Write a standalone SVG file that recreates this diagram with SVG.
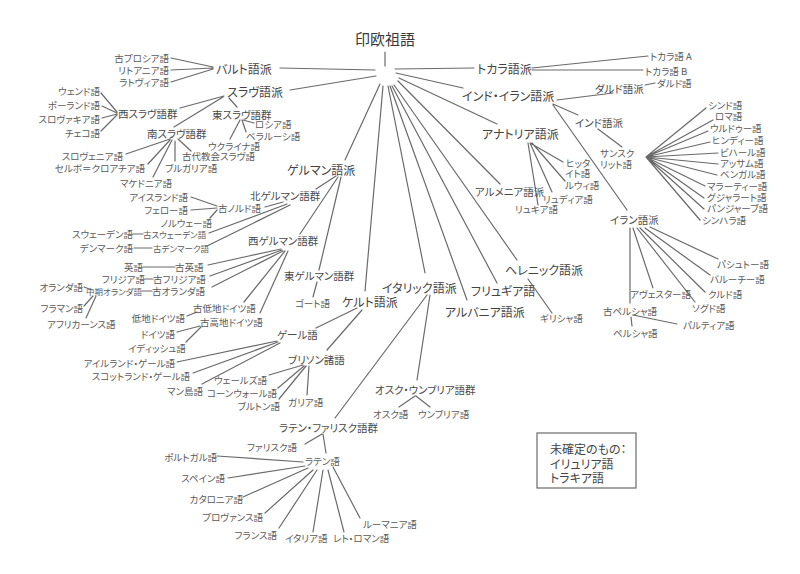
<svg xmlns="http://www.w3.org/2000/svg" width="800" height="574" viewBox="0 0 800 574">
<style>
text{font-family:"Noto Sans CJK JP","Noto Sans",sans-serif;dominant-baseline:central;font-feature-settings:"palt";}
.r{font-size:15px;fill:#3a3a3a;text-anchor:middle;}
.g{font-size:12px;fill:#444;}
.s{font-size:10.5px;fill:#4a4a4a;}
.l{font-size:9.5px;fill:#5a5a5a;}
.t{font-size:8.5px;fill:#5a5a5a;}
.e{text-anchor:end;}
.c{fill:none;stroke:#6a6a6a;stroke-width:1.2;stroke-linecap:round;}
</style>
<rect width="800" height="574" fill="#fff"/>
<g id="connectors" class="c">
<path d="M385 52L385 66M375 70L280 68M376 76L290 90M380 84L345 160M383 86L365 291M388 86L425 273M390 86L467 300M392 86L497 283M394 85L517 260M398 81L500 184M399 78L497 124M396 73L463 88M395 69L474 68"/>
<path d="M213 67L171 58M213 68L171 70M213 69L171 82"/>
<path d="M224 96L180 108M223 97L174 127M229 98L237 107M117 112L101 93M117 113L102 106M117 114L102 118M117 115L101 131M243 120L254 123M242 120L246 132M240 120L230 139M170 139L126 154M170 140L148 164M172 140L153 177M175 141L175 161M178 139L191 151"/>
<path d="M336 176L316 189M338 177L300 234M341 177L319 270M317 282L313 297M283 202L265 207M287 204L209 233M290 205L207 246M217 206L191 197M217 208L191 210M217 210L210 218M133 234L143 234M134 248L152 248M281 249L208 265M282 250L210 276M283 251L212 287M285 251L244 302M288 251L260 313M143 267L175 267M145 279L153 279M142 291L152 291M84 287L92 290M84 306L93 296M86 318L96 296M187 316L197 312M177 332L200 326M186 342L201 327"/>
<path d="M357 308L316 328M362 310L327 350M277 341L177 362M278 342L193 373M280 343L202 384M303 365L269 375M304 366L278 388M306 366L279 399M309 366L307 395"/>
<path d="M427 295L335 418M430 295L417 380M415 396L399 407M416 396L430 407M305 444L322 434M323 434L326 453M303 462L217 456M305 466L228 478M308 468L243 497M313 470L265 513M317 470L279 528M323 470L313 532M328 470L344 532M333 467L360 518"/>
<path d="M530 143L563 162M532 143L565 181M530 143L552 192M528 143L538 205M528 279L552 313"/>
<path d="M532 68L648 56M532 70L643 70M557 100L613 93M645 85L655 83M553 104L578 115M553 105L627 210M598 129L622 147"/>
<path d="M646 157L706 108M646 157L713 120M646 157L708 131M646 157L710 142M646 157L718 153M646 157L718 164M646 157L717 175M646 157L705 186M646 157L704 198M646 157L704 209M646 157L700 220"/>
<path d="M650 227L718 259M645 228L710 275M640 228L705 292M637 228L695 302M633 228L653 288M630 228L630 303M633 315L677 324M631 317L632 326"/>
</g>
<g id="n-root"><text class="r" x="385" y="38">印欧祖語</text></g>
<g id="n-baltic"><text class="g" x="216" y="68">バルト語派</text></g>
<g id="n-oldprussian"><text class="l e" x="169" y="58">古プロシア語</text></g>
<g id="n-lithuanian"><text class="l e" x="169" y="70">リトアニア語</text></g>
<g id="n-latvian"><text class="l e" x="169" y="82">ラトヴィア語</text></g>
<g id="n-slavic"><text class="g" x="227" y="91">スラヴ語派</text></g>
<g id="n-westslavic"><text class="s" x="118" y="113">西スラヴ語群</text></g>
<g id="n-wend"><text class="l e" x="100" y="91">ウェンド語</text></g>
<g id="n-polish"><text class="l e" x="100" y="105">ポーランド語</text></g>
<g id="n-slovak"><text class="l e" x="100" y="119">スロヴァキア語</text></g>
<g id="n-czech"><text class="l e" x="100" y="133">チェコ語</text></g>
<g id="n-eastslavic"><text class="s" x="212" y="114">東スラヴ語群</text></g>
<g id="n-russian"><text class="l" x="255" y="124">ロシア語</text></g>
<g id="n-belarusian"><text class="l" x="246" y="136">ベラルーシ語</text></g>
<g id="n-ukrainian"><text class="l" x="208" y="146">ウクライナ語</text></g>
<g id="n-southslavic"><text class="s" x="147" y="133">南スラヴ語群</text></g>
<g id="n-slovene"><text class="l e" x="123" y="156">スロヴェニア語</text></g>
<g id="n-serbocroatian"><text class="l e" x="145" y="168">セルボ＝クロアチア語</text></g>
<g id="n-macedonian"><text class="l" x="120" y="183">マケドニア語</text></g>
<g id="n-bulgarian"><text class="l" x="165" y="168">ブルガリア語</text></g>
<g id="n-churchslavonic"><text class="l" x="182" y="156">古代教会スラヴ語</text></g>
<g id="n-germanic"><text class="g" x="287" y="169">ゲルマン語派</text></g>
<g id="n-northgermanic"><text class="s" x="250" y="195">北ゲルマン語群</text></g>
<g id="n-oldnorse"><text class="l" x="218" y="208">古ノルド語</text></g>
<g id="n-icelandic"><text class="l e" x="188" y="197">アイスランド語</text></g>
<g id="n-faroese"><text class="l e" x="188" y="210">フェロー語</text></g>
<g id="n-norwegian"><text class="l e" x="212" y="223">ノルウェー語</text></g>
<g id="n-swedish"><text class="l e" x="133" y="234">スウェーデン語</text></g>
<g id="n-oldswedish"><text class="t" x="143" y="234">古スウェーデン語</text></g>
<g id="n-danish"><text class="l e" x="133" y="248">デンマーク語</text></g>
<g id="n-olddanish"><text class="t" x="153" y="248">古デンマーク語</text></g>
<g id="n-westgermanic"><text class="s" x="248" y="240">西ゲルマン語群</text></g>
<g id="n-english"><text class="l e" x="143" y="267">英語</text></g>
<g id="n-oldenglish"><text class="l" x="175" y="267">古英語</text></g>
<g id="n-frisian"><text class="l e" x="145" y="279">フリジア語</text></g>
<g id="n-oldfrisian"><text class="l" x="153" y="279">古フリジア語</text></g>
<g id="n-middledutch"><text class="t e" x="142" y="291">中期オランダ語</text></g>
<g id="n-olddutch"><text class="l" x="152" y="291">古オランダ語</text></g>
<g id="n-dutch"><text class="l e" x="83" y="287">オランダ語</text></g>
<g id="n-flemish"><text class="l e" x="83" y="308">フラマン語</text></g>
<g id="n-afrikaans"><text class="l" x="47" y="324">アフリカーンス語</text></g>
<g id="n-oldlowgerman"><text class="l" x="193" y="308">古低地ドイツ語</text></g>
<g id="n-oldhighgerman"><text class="l" x="200" y="322">古高地ドイツ語</text></g>
<g id="n-lowgerman"><text class="l e" x="185" y="318">低地ドイツ語</text></g>
<g id="n-german"><text class="l e" x="175" y="334">ドイツ語</text></g>
<g id="n-yiddish"><text class="l" x="128" y="348">イディッシュ語</text></g>
<g id="n-eastgermanic"><text class="s" x="284" y="275">東ゲルマン語群</text></g>
<g id="n-gothic"><text class="l" x="295" y="303">ゴート語</text></g>
<g id="n-celtic"><text class="g" x="342" y="301">ケルト語派</text></g>
<g id="n-gaelic"><text class="s" x="277" y="334">ゲール語</text></g>
<g id="n-irish"><text class="l e" x="175" y="363">アイルランド・ゲール語</text></g>
<g id="n-scottish"><text class="l e" x="190" y="376">スコットランド・ゲール語</text></g>
<g id="n-manx"><text class="l" x="167" y="391">マン島語</text></g>
<g id="n-brittonic"><text class="s" x="288" y="359">ブリソン諸語</text></g>
<g id="n-welsh"><text class="l e" x="267" y="380">ウェールズ語</text></g>
<g id="n-cornish"><text class="l e" x="277" y="393">コーンウォール語</text></g>
<g id="n-breton"><text class="l e" x="280" y="406">ブルトン語</text></g>
<g id="n-gaulish"><text class="l" x="288" y="402">ガリア語</text></g>
<g id="n-italic"><text class="g" x="382" y="287">イタリック語派</text></g>
<g id="n-oscoumbrian"><text class="s" x="375" y="389">オスク・ウンブリア語群</text></g>
<g id="n-oscan"><text class="l" x="373" y="414">オスク語</text></g>
<g id="n-umbrian"><text class="l" x="418" y="414">ウンブリア語</text></g>
<g id="n-latinofaliscan"><text class="s" x="279" y="427">ラテン・ファリスク語群</text></g>
<g id="n-faliscan"><text class="l" x="247" y="447">ファリスク語</text></g>
<g id="n-latin"><text class="l" x="305" y="461">ラテン語</text></g>
<g id="n-portuguese"><text class="l e" x="217" y="457">ポルトガル語</text></g>
<g id="n-spanish"><text class="l e" x="225" y="478">スペイン語</text></g>
<g id="n-catalan"><text class="l e" x="243" y="499">カタロニア語</text></g>
<g id="n-provencal"><text class="l e" x="263" y="517">プロヴァンス語</text></g>
<g id="n-french"><text class="l e" x="277" y="535">フランス語</text></g>
<g id="n-italian"><text class="l" x="285" y="538">イタリア語</text></g>
<g id="n-romansh"><text class="l" x="333" y="538">レト・ロマン語</text></g>
<g id="n-romanian"><text class="l" x="363" y="524">ルーマニア語</text></g>
<g id="n-albanian"><text class="g" x="445" y="311">アルバニア語派</text></g>
<g id="n-phrygian"><text class="g" x="471" y="290">フリュギア語</text></g>
<g id="n-hellenic"><text class="g" x="505" y="269">ヘレニック語派</text></g>
<g id="n-greek"><text class="l" x="540" y="318">ギリシャ語</text></g>
<g id="n-armenian"><text class="s" x="475" y="191">アルメニア語派</text></g>
<g id="n-anatolian"><text class="g" x="482" y="133">アナトリア語派</text></g>
<g id="n-hittite"><text class="l" x="566" y="163">ヒッタ</text><text class="l" x="565" y="173">イト語</text></g>
<g id="n-luwian"><text class="l" x="565" y="185">ルウィ語</text></g>
<g id="n-lydian"><text class="l" x="543" y="199">リュディア語</text></g>
<g id="n-lycian"><text class="l" x="515" y="209">リュキア語</text></g>
<g id="n-tocharian"><text class="g" x="477" y="68">トカラ語派</text></g>
<g id="n-tocharianA"><text class="l" x="650" y="56">トカラ語 A</text></g>
<g id="n-tocharianB"><text class="l" x="645" y="71">トカラ語 B</text></g>
<g id="n-indoiranian"><text class="g" x="462" y="95">インド・イラン語派</text></g>
<g id="n-dardic"><text class="s" x="595" y="88">ダルド語派</text></g>
<g id="n-dard"><text class="l" x="657" y="83">ダルド語</text></g>
<g id="n-indic"><text class="s" x="575" y="122">インド語派</text></g>
<g id="n-sanskrit"><text class="l" x="600" y="153">サンスク</text><text class="l" x="600" y="164">リット語</text></g>
<g id="n-sindhi"><text class="l" x="708" y="105">シンド語</text></g>
<g id="n-romani"><text class="l" x="715" y="116">ロマ語</text></g>
<g id="n-urdu"><text class="l" x="710" y="128">ウルドゥー語</text></g>
<g id="n-hindi"><text class="l" x="712" y="140">ヒンディー語</text></g>
<g id="n-bihari"><text class="l" x="720" y="152">ビハール語</text></g>
<g id="n-assamese"><text class="l" x="720" y="163">アッサム語</text></g>
<g id="n-bengali"><text class="l" x="720" y="174">ベンガル語</text></g>
<g id="n-marathi"><text class="l" x="707" y="186">マラーティー語</text></g>
<g id="n-gujarati"><text class="l" x="707" y="197">グジャラート語</text></g>
<g id="n-punjabi"><text class="l" x="707" y="208">パンジャーブ語</text></g>
<g id="n-sinhala"><text class="l" x="702" y="220">シンハラ語</text></g>
<g id="n-iranian"><text class="s" x="610" y="219">イラン語派</text></g>
<g id="n-pashto"><text class="l" x="717" y="264">パシュトー語</text></g>
<g id="n-baluchi"><text class="l" x="710" y="279">バルーチー語</text></g>
<g id="n-kurdish"><text class="l" x="708" y="294">クルド語</text></g>
<g id="n-sogdian"><text class="l" x="692" y="308">ソグド語</text></g>
<g id="n-avestan"><text class="l" x="630" y="294">アヴェスター語</text></g>
<g id="n-oldpersian"><text class="l" x="603" y="311">古ペルシャ語</text></g>
<g id="n-parthian"><text class="l" x="683" y="325">パルティア語</text></g>
<g id="n-persian"><text class="l" x="613" y="333">ペルシャ語</text></g>
<g id="n-note">
<rect x="537" y="433" width="99" height="55" fill="none" stroke="#6a6a6a" stroke-width="1.2"/>
<text class="g" x="550" y="448">未確定のもの：</text>
<text class="g" x="550" y="463">イリュリア語</text>
<text class="g" x="550" y="477">トラキア語</text>
</g>
</svg>
